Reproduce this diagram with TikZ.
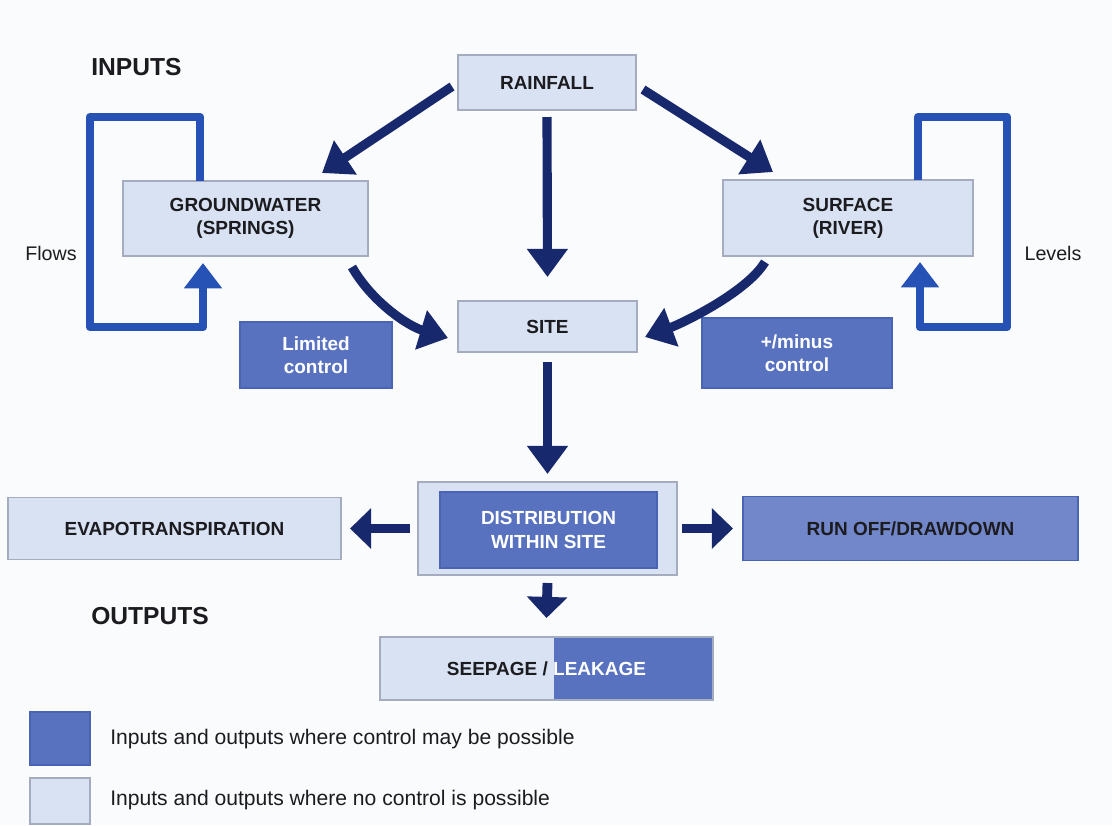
\documentclass[tikz,border=0pt]{standalone}
\usepackage{fontspec}
\setmainfont{Liberation Sans}
\usetikzlibrary{arrows.meta}
\definecolor{paper}{RGB}{250,251,253}
\definecolor{pale}{RGB}{216,226,243}
\definecolor{paleedge}{RGB}{165,172,192}
\definecolor{wash}{RGB}{88,114,192}
\definecolor{washedge}{RGB}{74,100,180}
\definecolor{navy}{RGB}{24,40,108}
\definecolor{loopblue}{RGB}{38,82,182}
\definecolor{ink}{RGB}{28,28,32}
\newcommand{\WHITE}[1]{\textcolor{white}{#1}}

\begin{document}
\begin{tikzpicture}[x=0.025cm,y=-0.025cm,
  panel/.style 2 args={minimum width=#1*0.025cm, minimum height=#2*0.025cm,
    inner sep=0pt, outer sep=0pt, align=center,
    font=\fontsize{13.5}{16.5}\selectfont\bfseries},
  nocontrol/.style={fill=pale, draw=paleedge, line width=1pt, text=ink},
  control/.style={fill=wash, draw=washedge, line width=1pt, text=white},
  inflow/.style={draw=navy, line width=6.5pt, -{Triangle[width=28pt,length=20pt]}},
  outflow/.style={draw=navy, line width=7pt, -{Triangle[width=28pt,length=15pt]}},
  feedback/.style={draw=loopblue, line width=6pt, line join=round,
    -{Triangle[width=26pt,length=18pt]}},
  heading/.style={inner sep=0pt, text=ink, font=\fontsize{17.5}{20}\selectfont\bfseries},
  note/.style={inner sep=0pt, text=ink, font=\fontsize{14}{17}\selectfont}]

  %% page
  \fill[paper] (0,0) rectangle (1112,825);
  \useasboundingbox (0,0) rectangle (1112,825);

  %% inputs
  \node[heading, anchor=west] (inputs) at (91,67) {INPUTS};
  \node[panel={178}{55}, nocontrol] (rain) at (547,82.5) {RAINFALL};
  \node[panel={245}{75}, nocontrol] (gw) at (245.5,218.5) {GROUNDWATER\\(SPRINGS)};
  \node[panel={250}{76}, nocontrol] (surf) at (848,218) {SURFACE\\(RIVER)};
  \node[panel={179}{51}, nocontrol] (site) at (547.5,326.5) {SITE};
  \node[panel={152}{66}, control] (limit) at (316,355) {Limited\\control};
  \node[panel={190}{70}, control] (plusminus) at (797,353) {+/minus\\control};
  \node[note] (flows) at (51,253) {Flows};
  \node[note] (levels) at (1053,253) {Levels};

  %% outputs
  \node[panel={259}{93}, nocontrol] (dist) at (547.5,528.5) {};
  \node[panel={217}{76}, control] (distin) at (548.5,530) {DISTRIBUTION\\WITHIN SITE};
  \node[panel={333}{62}, nocontrol] (evap) at (174.5,528.5) {EVAPOTRANSPIRATION};
  \node[panel={335}{64}, control, fill=wash!85, text=ink] (runoff) at (910.5,528.5)
    {RUN OFF/DRAWDOWN};
  \node[heading, anchor=west] (outputs) at (91,616) {OUTPUTS};
  \node[panel={333}{63}, nocontrol, path picture={
      \fill[wash] ([shift={(7,0)}]path picture bounding box.north)
      rectangle (path picture bounding box.south east);}]
    (seep) at (546.5,668.5) {SEEPAGE /\ \WHITE{LEAKAGE}};

  %% rainfall arrows
  \draw[inflow] ([shift={(-6,4)}]rain.west) -- ([shift={(-46,-8)}]gw.north east);
  \draw[inflow] ([shift={(0,7)}]rain.south) -- ([shift={(0,-24)}]site.north);
  \draw[inflow] ([shift={(7,7)}]rain.east) -- ([shift={(50,-8)}]surf.north west);

  %% into site
  \draw[inflow] ([shift={(-16,11)}]gw.south east)
    .. controls +(20,35) and +(-40,-12) .. ([shift={(-10,11.5)}]site.west);
  \draw[inflow] ([shift={(42,6)}]surf.south west)
    .. controls +(-18,30) and +(38,-14) .. ([shift={(8,10.5)}]site.east);
  \draw[inflow] ([shift={(0,10)}]site.south) -- ([shift={(0,-8)}]dist.north);

  %% out of site
  \draw[outflow] ([shift={(-8,0)}]dist.west) -- ([shift={(9,0)}]evap.east);
  \draw[outflow] ([shift={(5,0)}]dist.east) -- ([shift={(-10,0)}]runoff.west);
  \draw[outflow] ([shift={(0,8)}]dist.south) -- ([shift={(0,-19)}]seep.north);

  %% flows and levels
  \draw[feedback] ([shift={(77,0)}]gw.north west) -- ++(0,-64) -- ++(-110,0)
    -- ++(0,210) -| ([shift={(80,7)}]gw.south west);
  \draw[feedback] ([shift={(195,0)}]surf.north west) -- ++(0,-63) -- ++(89,0)
    -- ++(0,210) -| ([shift={(197,6)}]surf.south west);

  %% key
  \node[panel={60}{53}, control] (keyctl) at (60,738.5) {};
  \node[panel={60}{46}, nocontrol] (keynoctl) at (60,801) {};
  \node[note, anchor=west, font=\fontsize{15}{18}\selectfont] (keyctltext)
    at ([shift={(20,1)}]keyctl.east)
    {Inputs and outputs where control may be possible};
  \node[note, anchor=west, font=\fontsize{15}{18}\selectfont] (keynoctltext)
    at ([shift={(20,-1)}]keynoctl.east)
    {Inputs and outputs where no control is possible};

\end{tikzpicture}
\end{document}
